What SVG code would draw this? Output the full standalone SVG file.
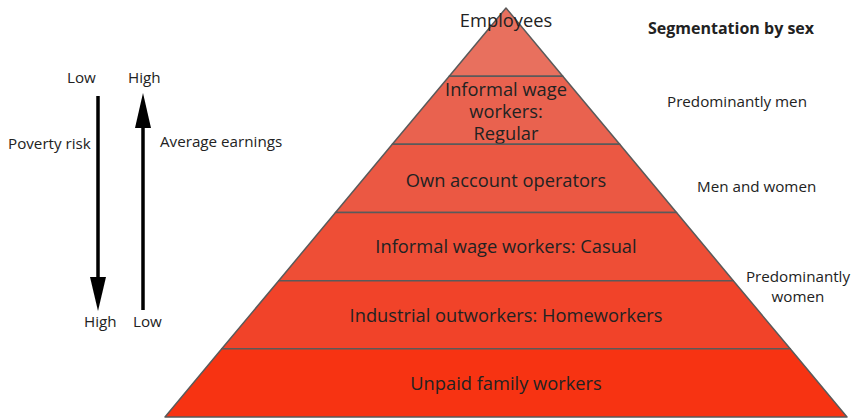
<svg xmlns="http://www.w3.org/2000/svg" width="856" height="419" viewBox="0 0 856 419">
  <defs>
    <style>
      .band { stroke: #5a5a5a; stroke-width: 1.5; stroke-linejoin: round; }
      .lbl { font-family: "Open Sans", "Noto Sans", "DejaVu Sans", sans-serif; font-size: 18.3px; fill: #222; text-anchor: middle; }
      .side { font-family: "Open Sans", "Noto Sans", "DejaVu Sans", sans-serif; font-size: 15.2px; fill: #222; }
      .head { font-weight: bold; font-size: 16px; }
      .mid { text-anchor: middle; }
      .axis { stroke: #000; stroke-width: 3.5; fill: none; }
    </style>
  </defs>
  <rect width="856" height="419" fill="#fff"/>

  <!-- pyramid bands, top to bottom -->
  <g id="employees">
    <polygon class="band" fill="#e8705e" points="506,8 562.8,76.2 449.2,76.2"/>
    <text class="lbl" x="506" y="27">Employees</text>
  </g>
  <g id="informal-regular">
    <polygon class="band" fill="#e9624f" points="449.2,76.2 562.8,76.2 619.7,144.3 392.3,144.3"/>
    <text class="lbl" x="506" y="96">Informal wage</text>
    <text class="lbl" x="506" y="118">workers:</text>
    <text class="lbl" x="506" y="140">Regular</text>
  </g>
  <g id="own-account">
    <polygon class="band" fill="#eb5843" points="392.3,144.3 619.7,144.3 676.5,212.5 335.5,212.5"/>
    <text class="lbl" x="506" y="187">Own account operators</text>
  </g>
  <g id="informal-casual">
    <polygon class="band" fill="#ee4e36" points="335.5,212.5 676.5,212.5 733.3,280.7 278.7,280.7"/>
    <text class="lbl" x="506" y="253">Informal wage workers: Casual</text>
  </g>
  <g id="outworkers">
    <polygon class="band" fill="#f14329" points="278.7,280.7 733.3,280.7 790.2,348.8 221.8,348.8"/>
    <text class="lbl" x="506" y="322">Industrial outworkers: Homeworkers</text>
  </g>
  <g id="unpaid-family">
    <polygon class="band" fill="#f73312" points="221.8,348.8 790.2,348.8 847,417 165,417"/>
    <text class="lbl" x="506" y="390">Unpaid family workers</text>
  </g>

  <!-- segmentation by sex -->
  <g id="segmentation">
    <text class="side head" x="648" y="34">Segmentation by sex</text>
    <text class="side" x="667" y="107">Predominantly men</text>
    <text class="side" x="697" y="192">Men and women</text>
    <text class="side mid" x="798" y="282">Predominantly</text>
    <text class="side mid" x="798" y="302">women</text>
  </g>

  <!-- poverty risk / earnings axes -->
  <g id="connectors">
    <line class="axis" x1="98" y1="96" x2="98" y2="280"/>
    <polygon fill="#000" points="90,277 106,277 98,311"/>
    <line class="axis" x1="143" y1="310" x2="143" y2="126"/>
    <polygon fill="#000" points="135,128 151,128 143,93"/>
  </g>
  <g id="axis-labels">
    <text class="side" x="67" y="83">Low</text>
    <text class="side" x="128" y="83">High</text>
    <text class="side" x="8" y="149">Poverty risk</text>
    <text class="side" x="160" y="147">Average earnings</text>
    <text class="side" x="84" y="327">High</text>
    <text class="side" x="133" y="327">Low</text>
  </g>
</svg>
